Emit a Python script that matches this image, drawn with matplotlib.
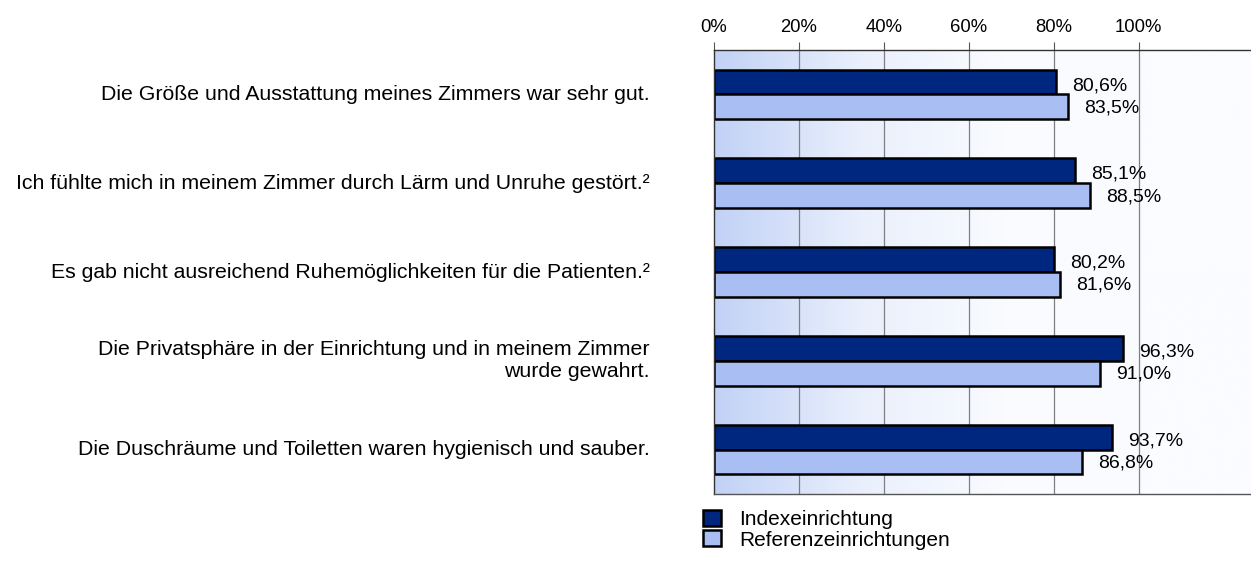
import numpy as np
import matplotlib
matplotlib.use("Agg")
import matplotlib.pyplot as plt
from matplotlib.colors import LinearSegmentedColormap
from matplotlib.patches import Patch

plt.rcParams['font.family'] = ['Liberation Sans', 'DejaVu Sans']

statements = [
    "Die Größe und Ausstattung meines Zimmers war sehr gut.",
    "Ich fühlte mich in meinem Zimmer durch Lärm und Unruhe gestört.²",
    "Es gab nicht ausreichend Ruhemöglichkeiten für die Patienten.²",
    "Die Privatsphäre in der Einrichtung und in meinem Zimmer\nwurde gewahrt.",
    "Die Duschräume und Toiletten waren hygienisch und sauber.",
]
index_vals = [80.6, 85.1, 80.2, 96.3, 93.7]
reference_vals = [83.5, 88.5, 81.6, 91.0, 86.8]
series_names = ["Indexeinrichtung", "Referenzeinrichtungen"]
ticks = [0, 20, 40, 60, 80, 100]

dark = "#002780"
light = "#a9bef2"

fig = plt.figure(figsize=(12.51, 5.87), dpi=100)
ax = fig.add_axes([714 / 1251, 1 - 494 / 587, 1 - 714 / 1251, (494 - 50) / 587])

xmax = 126.5
n = len(statements)
ax.set_xlim(0, xmax)
ax.set_ylim(n - 0.5, -0.5)

# horizontal gradient behind the bars
grad = LinearSegmentedColormap.from_list("bg", ["#c2d2f6", "#e9effc", "#f9fbff", "#fbfcff"])
xs = np.linspace(0, 1, 256)
vals = np.clip(xs * xmax / 102, 0, 1)
ax.imshow(vals[None, :], cmap=grad, aspect="auto", extent=(0, xmax, n - 0.5, -0.5),
          vmin=0, vmax=1, zorder=0)

for t in ticks[1:]:
    ax.axvline(t, color="#7f7f7f", lw=0.9, zorder=1)

y = np.arange(n)
h = 0.28
ax.barh(y - h / 2, index_vals, height=h, color=dark, edgecolor="black", lw=1.8, zorder=2)
ax.barh(y + h / 2, reference_vals, height=h, color=light, edgecolor="black", lw=1.8, zorder=2)

for i in range(n):
    ax.text(index_vals[i] + 3.8, y[i] - h / 2 + 0.04, f"{index_vals[i]:.1f}%".replace(".", ","),
            va="center", ha="left", fontsize=14, zorder=3)
    ax.text(reference_vals[i] + 3.8, y[i] + h / 2 + 0.01, f"{reference_vals[i]:.1f}%".replace(".", ","),
            va="center", ha="left", fontsize=14, zorder=3)

ax.xaxis.tick_top()
ax.set_xticks(ticks)
ax.set_xticklabels([f"{t}%" for t in ticks], fontsize=13.3)
ax.tick_params(axis="x", length=6, color="#555555", pad=4)
ax.set_yticks([])

ax.spines["right"].set_visible(False)
ax.spines["top"].set_color("#333333")
ax.spines["left"].set_color("#333333")
ax.spines["bottom"].set_color("#555555")
for s in ["top", "left", "bottom"]:
    ax.spines[s].set_linewidth(1.0)

for i, lab in enumerate(statements):
    ax.text(-0.12, y[i], lab, transform=ax.get_yaxis_transform(), ha="right", va="center",
            fontsize=15.3, multialignment="right")

handles = [Patch(facecolor=dark, edgecolor="black", lw=1.8),
           Patch(facecolor=light, edgecolor="black", lw=1.8)]
fig.legend(handles, series_names, loc="upper left", bbox_to_anchor=(688 / 1251, 1 - 495 / 587),
           frameon=False, fontsize=15, handlelength=0.9, handleheight=0.8,
           handletextpad=0.85, labelspacing=0.08, borderpad=0.2)

fig.savefig("out.png", dpi=100)
